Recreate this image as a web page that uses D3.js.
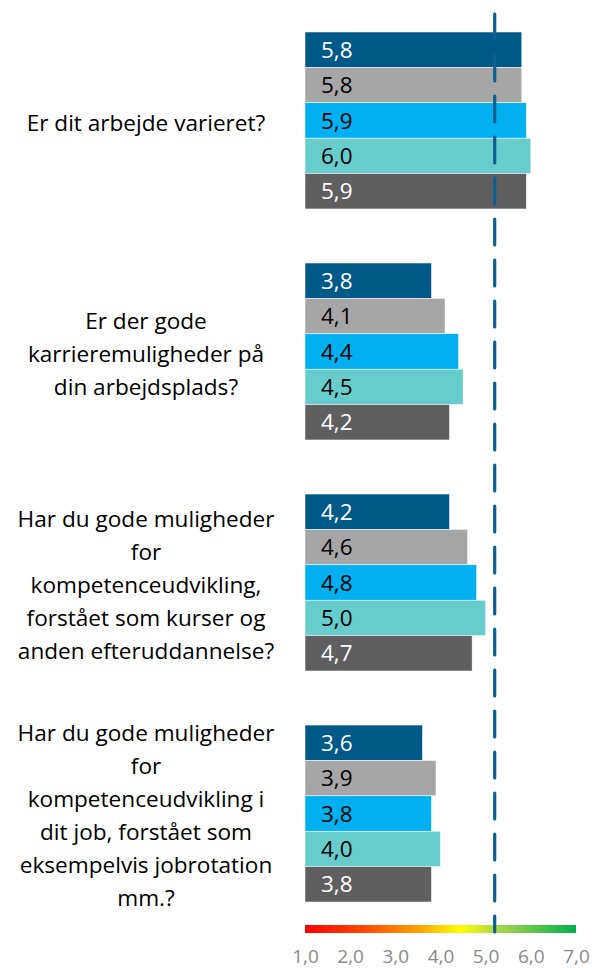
<!DOCTYPE html>
<html>
<head>
<meta charset="utf-8">
<script src="https://cdn.jsdelivr.net/npm/d3@7"></script>
<style>
  body { margin: 0; background: #fff; }
  svg { display: block; font-family: "Open Sans", sans-serif; }
</style>
</head>
<body>
<div id="chart"></div>
<script>
// questions, each split into the lines shown in the chart
var questions = [
    ["Er dit arbejde varieret?"],
    ["Er der gode", "karrieremuligheder på", "din arbejdsplads?"],
    ["Har du gode muligheder", "for", "kompetenceudvikling,", "forstået som kurser og", "anden efteruddannelse?"],
    ["Har du gode muligheder", "for", "kompetenceudvikling i", "dit job, forstået som", "eksempelvis jobrotation", "mm.?"]
];
var seriesNames = ["s1", "s2", "s3", "s4", "s5"];
var values = [
    [5.8, 5.8, 5.9, 6.0, 5.9],
    [3.8, 4.1, 4.4, 4.5, 4.2],
    [4.2, 4.6, 4.8, 5.0, 4.7],
    [3.6, 3.9, 3.8, 4.0, 3.8]
];
var tickValues = [1, 2, 3, 4, 5, 6, 7];
var benchmark = 5.2;

var colors = ["#005a87", "#a6a6a6", "#00b0f0", "#66cccc", "#5f5f5f"];
var textColors = ["#fff", "#000", "#000", "#000", "#fff"];

var width = 596, height = 968;

var svg = d3.select("#chart").append("svg")
    .attr("width", width)
    .attr("height", height);

var danish = d3.formatLocale({decimal: ",", thousands: ".", grouping: [3], currency: ["", " kr."]});
var fmt = danish.format(".1f");

var x = d3.scaleLinear().domain([1, 7]).range([305, 576]);
var y = d3.scaleBand()
    .domain(d3.range(questions.length))
    .range([32, 902])
    .paddingInner(0.234);
var ys = d3.scaleBand()
    .domain(seriesNames)
    .range([0, y.bandwidth()]);

// colour scale bar under the chart
var defs = svg.append("defs");
var grad = defs.append("linearGradient")
    .attr("id", "scale-grad")
    .attr("x1", "0%").attr("x2", "100%");
[[0, "#ff0000"], [0.22, "#ff4a00"], [0.42, "#ffa200"], [0.57, "#ffff00"], [0.72, "#a6d64a"], [1, "#00b050"]]
    .forEach(function(s) {
        grad.append("stop").attr("offset", s[0]).attr("stop-color", s[1]);
    });

svg.append("rect")
    .attr("x", x(1))
    .attr("y", 925)
    .attr("width", x(7) - x(1))
    .attr("height", 8)
    .attr("fill", "url(#scale-grad)");

var axis = d3.axisBottom(x)
    .tickValues(tickValues)
    .tickFormat(fmt)
    .tickSize(0)
    .tickPadding(0);

var ax = svg.append("g")
    .attr("class", "axis")
    .attr("transform", "translate(0,949.5)")
    .call(axis);
ax.select(".domain").remove();
ax.selectAll("text")
    .attr("fill", "#8a8a8a")
    .attr("font-size", 19)
    .attr("font-family", "Open Sans, sans-serif");

// bars
var groups = svg.append("g")
    .attr("class", "groups")
    .selectAll("g")
    .data(values)
    .enter().append("g")
    .attr("transform", function(d, i) { return "translate(0," + y(i) + ")"; });

groups.selectAll("rect")
    .data(function(d) { return d; })
    .enter().append("rect")
    .attr("x", x(1))
    .attr("y", function(d, i) { return ys(seriesNames[i]); })
    .attr("width", function(d) { return x(d) - x(1); })
    .attr("height", ys.bandwidth())
    .attr("fill", function(d, i) { return colors[i]; })
    .attr("stroke", "#fff")
    .attr("stroke-width", 0.5);

groups.selectAll("text.val")
    .data(function(d) { return d; })
    .enter().append("text")
    .attr("class", "val")
    .attr("x", x(1) + 16)
    .attr("y", function(d, i) { return ys(seriesNames[i]) + ys.bandwidth() / 2; })
    .attr("dy", "0.36em")
    .attr("font-size", 22.5)
    .attr("fill", function(d, i) { return textColors[i]; })
    .text(fmt);

// question labels
var lineH = 33;
svg.append("g")
    .attr("class", "labels")
    .selectAll("text")
    .data(questions)
    .enter().append("text")
    .attr("font-size", 22.6)
    .attr("fill", "#000")
    .attr("text-anchor", "middle")
    .each(function(lines, i) {
        var cy = y(i) + y.bandwidth() / 2 + 2;
        var top = cy - (lines.length - 1) * lineH / 2;
        d3.select(this).selectAll("tspan")
            .data(lines)
            .enter().append("tspan")
            .attr("x", 146)
            .attr("y", function(l, j) { return top + j * lineH; })
            .attr("dy", "0.36em")
            .text(function(l) { return l; });
    });

// benchmark dashed line
svg.append("line")
    .attr("x1", x(benchmark))
    .attr("x2", x(benchmark))
    .attr("y1", 14)
    .attr("y2", 932)
    .attr("stroke", "#0e5f91")
    .attr("stroke-width", 3.2)
    .attr("stroke-linecap", "round")
    .attr("stroke-dasharray", "26,15");
</script>
</body>
</html>
